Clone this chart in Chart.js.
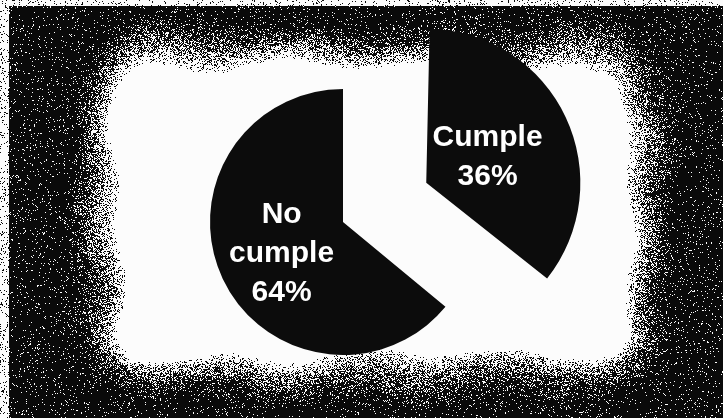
<!DOCTYPE html>
<html>
<head>
<meta charset="utf-8">
<script src="https://cdn.jsdelivr.net/npm/chart.js@4.4.1/dist/chart.umd.min.js"></script>
<style>
  html, body { margin: 0; padding: 0; }
  body { width: 723px; height: 418px; overflow: hidden; position: relative; background: #0b0b0b; }
  canvas { position: absolute; left: 0; top: 0; }
</style>
</head>
<body>
<canvas id="paper" width="723" height="418"></canvas>
<canvas id="pieChart" width="723" height="418"></canvas>
<script>
const categories = ["Cumple", "No cumple"];
const labelLines = [["Cumple", "36%"], ["No", "cumple", "64%"]];
const percents = [36, 64];
const sliceOffsets = [368, 0]; // chart.js moves the slice by offset / 4

// scanned-paper look: white middle, grainy black frame
(function drawPaper() {
    const c = document.getElementById("paper");
    const ctx = c.getContext("2d");
    const img = ctx.createImageData(723, 418);
    const x0 = 114, x1 = 630, y0 = 64, y1 = 358, cr = 30, band = 58;
    function hash(x, y) {
        let h = (x * 374761393 + y * 668265263) | 0;
        h = Math.imul(h ^ (h >>> 13), 1274126177);
        h = h ^ (h >>> 16);
        return (h >>> 0) / 4294967295;
    }
    function wobble(x, y) {
        return 5 * Math.sin(x * 0.045 + y * 0.02) + 4 * Math.sin(y * 0.06 - x * 0.013 + 1.7);
    }
    for (let y = 0; y < 418; y++) {
        for (let x = 0; x < 723; x++) {
            // signed distance to rounded rect (positive inside)
            const qx = Math.max(x0 + cr - x, x - (x1 - cr), 0);
            const qy = Math.max(y0 + cr - y, y - (y1 - cr), 0);
            let d;
            if (qx > 0 && qy > 0) d = cr - Math.hypot(qx, qy);
            else d = Math.min(x - x0, x1 - x, y - y0, y1 - y);
            d += wobble(x, y);
            let t = Math.max(0, Math.min(1, (d + band) / (band + 4)));
            t = Math.pow(t, 2.6);
            let v = 0.05 + 0.95 * t;
            if (y < 6) v = Math.max(v, 0.9);
            if (x < 9) v = Math.max(v, 0.9);
            const on = v > hash(x, y);
            const g = on ? 252 : 10;
            const k = (y * 723 + x) * 4;
            img.data[k] = g; img.data[k + 1] = g; img.data[k + 2] = g; img.data[k + 3] = 255;
        }
    }
    ctx.putImageData(img, 0, 0);
})();

// draw the white text inside each slice
const sliceLabels = {
    id: "sliceLabels",
    afterDatasetsDraw(chart) {
        const ctx = chart.ctx;
        const meta = chart.getDatasetMeta(0);
        ctx.save();
        ctx.fillStyle = "#ffffff";
        ctx.font = "bold 30px 'Liberation Sans', Arial, sans-serif";
        ctx.textAlign = "center";
        ctx.textBaseline = "middle";
        meta.data.forEach((arc, i) => {
            const p = arc.getProps(["x", "y", "startAngle", "endAngle", "outerRadius"]);
            const mid = (p.startAngle + p.endAngle) / 2;
            const r = arc.options.offset / 4 + p.outerRadius * 0.51;
            const cx = p.x + Math.cos(mid) * r;
            const cy = p.y + Math.sin(mid) * r + 3;
            const lines = labelLines[i];
            const lh = 39;
            lines.forEach((t, k) => {
                ctx.fillText(t, cx, cy + (k - (lines.length - 1) / 2) * lh);
            });
        });
        ctx.restore();
    }
};

new Chart(document.getElementById("pieChart"), {
    type: "pie",
    data: {
        labels: categories,
        datasets: [{
            data: percents,
            backgroundColor: ["#0c0c0c", "#0c0c0c"],
            borderWidth: 0,
            offset: sliceOffsets
        }]
    },
    options: {
        responsive: false,
        animation: false,
        radius: 133,
        layout: { padding: { left: 0, right: 37, top: 26, bottom: 0 } },
        plugins: {
            legend: { display: false },
            tooltip: { enabled: false }
        }
    },
    plugins: [sliceLabels]
});
</script>
</body>
</html>
